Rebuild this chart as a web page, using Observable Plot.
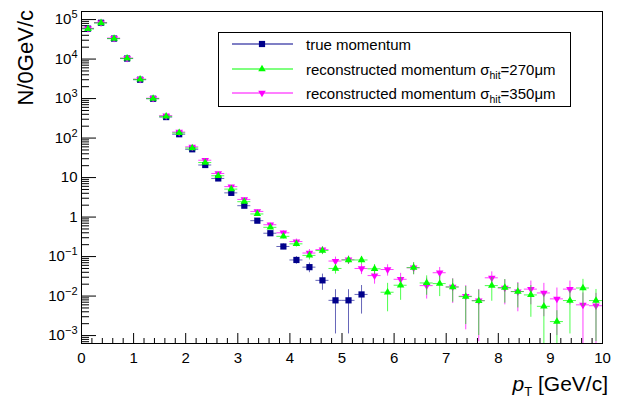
<!DOCTYPE html>
<html><head><meta charset="utf-8">
<script src="https://cdn.jsdelivr.net/npm/d3@7"></script>
<script src="https://cdn.jsdelivr.net/npm/@observablehq/plot@0.6"></script>
<style>
html,body{margin:0;padding:0;background:#fff;}
#chart svg{font-family:"Liberation Sans",Arial,Helvetica,sans-serif;background:#fff;}
</style></head><body><div id="chart"></div>
<script>
// ---- data ----
const binCenters = [0.125,0.375,0.625,0.875,1.125,1.375,1.625,1.875,2.125,2.375,
  2.625,2.875,3.125,3.375,3.625,3.875,4.125,4.375,4.625,4.875,
  5.125,5.375,5.625,5.875,6.125,6.375,6.625,6.875,7.125,7.375,
  7.625,7.875,8.125,8.375,8.625,8.875,9.125,9.375,9.625,9.875];
const binHalfWidth = 0.125;

const trueMomentum = [5.9e4,8.3e4,3.3e4,1.03e4,3.0e3,990,340,125,52,20.8,
  9.5,4.1,1.94,0.81,0.39,0.18,0.082,0.054,0.025,0.0078,
  0.0078,0.011,null,null,null,null,null,null,null,null,
  null,null,null,null,null,null,null,null,null,null];
const trueMomentumErr = [20,24,15,8.5,4.6,2.6,1.5,0.9,0.6,0.38,
  0.26,0.17,0.12,0.075,0.05,0.03,0.018,0.015,0.011,0.0067,
  0.0067,0.0075,null,null,null,null,null,null,null,null,
  null,null,null,null,null,null,null,null,null,null];

const reco270 = [5.8e4,8.2e4,3.3e4,1.04e4,3.05e3,1000,355,135,56,24,
  11.1,5.1,2.45,1.2,0.55,0.325,0.21,0.107,0.142,0.05,
  0.082,0.082,0.049,0.0125,0.0188,0.0525,0.0215,0.0207,0.017,0.0097,
  0.0076,0.0184,0.0164,0.013,0.0107,0.0055,0.00226,0.0077,0.016,0.0077];
const reco270Err = [20,24,15,8.5,4.6,2.6,1.6,0.95,0.62,0.4,
  0.28,0.19,0.13,0.09,0.06,0.045,0.036,0.025,0.03,0.014,
  0.018,0.018,0.014,0.0085,0.011,0.018,0.011,0.011,0.01,0.0078,
  0.0066,0.011,0.0098,0.008,0.0078,0.0058,0.002,0.0066,0.0105,0.007];

const reco350 = [6.0e4,8.4e4,3.4e4,1.06e4,3.1e3,1020,370,142,60,27.5,
  12.7,5.9,2.8,1.39,0.64,0.40,0.24,0.123,0.15,0.077,
  0.083,0.05,0.033,0.047,0.0266,0.052,0.0184,0.039,0.017,0.0099,
  0.0077,0.029,0.016,0.013,0.015,0.012,0.0085,0.015,0.006,0.0057];
const reco350Err = [20,24,15,8.5,4.7,2.7,1.7,1.0,0.65,0.42,
  0.3,0.2,0.14,0.1,0.065,0.05,0.038,0.028,0.03,0.02,
  0.02,0.015,0.013,0.015,0.011,0.017,0.01,0.014,0.0105,0.0085,
  0.007,0.012,0.01,0.009,0.009,0.009,0.0075,0.009,0.006,0.006];

const xTickValues = [0,1,2,3,4,5,6,7,8,9,10];
const xTickLabels = ["0","1","2","3","4","5","6","7","8","9","10"];
const yTickValues = [1e-3,1e-2,1e-1,1,10,1e2,1e3,1e4,1e5];
const yTickLabels = ["10^−3","10^−2","10^−1","1","10","10^2","10^3","10^4","10^5"];

const seriesNames = ["true momentum","reconstructed momentum σ_hit=270μm","reconstructed momentum σ_hit=350μm"];
const seriesColors = ["#00008b","#00ff00","#ff00ff"];

// ---- layout ----
const W = 619, H = 400, mL = 81, mR = 17, mT = 11, mB = 57;
const frameW = W - mL - mR, frameH = H - mT - mB;
const yMin = 6.3e-4, yMax = 1.6e5;
const rSquare = 3.5, rTri = 2.8;

const downTriangle = {draw(context, size) {
  const a = Math.sqrt(size / (3 * Math.sqrt(3))), s3 = Math.sqrt(3);
  context.moveTo(0, 2 * a); context.lineTo(-s3 * a, -a); context.lineTo(s3 * a, -a); context.closePath();
}};

function series(vals, errs) {
  return binCenters.map((x, i) => ({x, v: vals[i], e: errs[i]})).filter(d => d.v != null);
}
const sTrue = series(trueMomentum, trueMomentumErr);
const s270 = series(reco270, reco270Err);
const s350 = series(reco350, reco350Err);

function histMarks(s, color, symbol, r, errOpacity) {
  return [
    Plot.ruleY(s, {y: "v", x1: d => d.x - binHalfWidth, x2: d => d.x + binHalfWidth, stroke: color, strokeOpacity: errOpacity, strokeWidth: 1, clip: true}),
    Plot.ruleX(s, {x: "x", y1: d => Math.max(d.v - d.e, yMin / 10), y2: d => d.v + d.e, stroke: color, strokeOpacity: errOpacity, strokeWidth: 1, clip: true}),
    Plot.dot(s, {x: "x", y: "v", symbol, r, fill: color, stroke: "none", clip: true})
  ];
}

// minor ticks
const yMinor = [];
for (let k = -4; k <= 5; k++) for (let m = 2; m <= 9; m++) { const v = m * Math.pow(10, k); if (v > yMin && v < yMax) yMinor.push(v); }
const xMinor = [];
for (let i = 0; i <= 50; i++) if (i % 5 !== 0) xMinor.push(i / 5);

const plot = Plot.plot({
  width: W, height: H, marginLeft: mL, marginRight: mR, marginTop: mT, marginBottom: mB,
  style: {fontFamily: "Liberation Sans, Arial, sans-serif", background: "#fff"},
  x: {domain: [0, 10]},
  y: {type: "log", domain: [yMin, yMax]},
  marks: [
    Plot.axisX({ticks: xTickValues, tickFormat: d => xTickLabels[xTickValues.indexOf(d)], tickSize: 0, tickPadding: 9, fontSize: 15, label: null, color: "#000"}),
    Plot.axisY({ticks: yTickValues, tickFormat: d => yTickLabels[yTickValues.indexOf(d)], tickSize: 0, tickPadding: 4, fontSize: 15, label: null, color: "#000"}),
    Plot.tickX(xTickValues, {x: d => d, insetTop: frameH - 10, stroke: "#000"}),
    Plot.tickX(xMinor, {x: d => d, insetTop: frameH - 5, stroke: "#000"}),
    Plot.tickY(yTickValues, {y: d => d, insetRight: frameW - 15, stroke: "#000"}),
    Plot.tickY(yMinor, {y: d => d, insetRight: frameW - 8, stroke: "#000"}),
    ...histMarks(sTrue, seriesColors[0], "square", rSquare, 0.6),
    ...histMarks(s350, seriesColors[2], downTriangle, rTri, 0.75),
    ...histMarks(s270, seriesColors[1], "triangle", rTri, 0.7),
    Plot.frame({stroke: "#000", strokeWidth: 1})
  ]
});
document.getElementById("chart").appendChild(plot);

const svg = d3.select(plot);

// superscripts on y tick labels
svg.selectAll('g[aria-label="y-axis tick label"] text').each(function() {
  const t = d3.select(this); const s = t.text();
  if (s.includes("^")) {
    const [base, exp] = s.split("^");
    t.text(base);
    t.append("tspan").attr("dy", "-0.55em").attr("font-size", 11).text(exp);
  }
});

// axis titles
const xt = svg.append("text").attr("x", 608).attr("y", 391).attr("text-anchor", "end").attr("font-size", 21).attr("fill", "#000");
xt.append("tspan").attr("font-style", "italic").text("p");
xt.append("tspan").attr("font-size", 13).attr("dy", 5).text("T");
xt.append("tspan").attr("dy", -5).text(" [GeV/c]");

svg.append("text").attr("transform", "rotate(-90)").attr("x", -10).attr("y", 33)
  .attr("text-anchor", "end").attr("font-size", 22).attr("fill", "#000").text("N/0GeV/c");

// legend
const leg = svg.append("g").attr("text-anchor", "start");
leg.append("rect").attr("x", 218.5).attr("y", 32.5).attr("width", 352).attr("height", 74)
  .attr("fill", "#fff").attr("stroke", "#000").attr("stroke-width", 1);
const rowY = [44, 69, 93];
const legSymbols = [d3.symbolSquare, d3.symbolTriangle, downTriangle];
const legSizes = [rSquare, rTri, rTri];
seriesNames.forEach((name, i) => {
  const y = rowY[i];
  leg.append("line").attr("x1", 232).attr("x2", 293).attr("y1", y).attr("y2", y).attr("stroke", seriesColors[i]).attr("stroke-width", 1.2);
  leg.append("path").attr("transform", `translate(262,${y})`)
    .attr("d", d3.symbol(legSymbols[i], Math.PI * legSizes[i] * legSizes[i])()).attr("fill", seriesColors[i]);
  const t = leg.append("text").attr("x", 306).attr("y", y + 5.5).attr("font-size", 15).attr("text-anchor", "start").attr("fill", "#000");
  if (name.includes("_")) {
    const [pre, rest] = name.split("_");
    const sub = rest.slice(0, 3), post = rest.slice(3);
    t.append("tspan").text(pre);
    t.append("tspan").attr("font-size", 10.5).attr("dy", 4.5).text(sub);
    t.append("tspan").attr("dy", -4.5).text(post);
  } else {
    t.text(name);
  }
});
</script></body></html>
